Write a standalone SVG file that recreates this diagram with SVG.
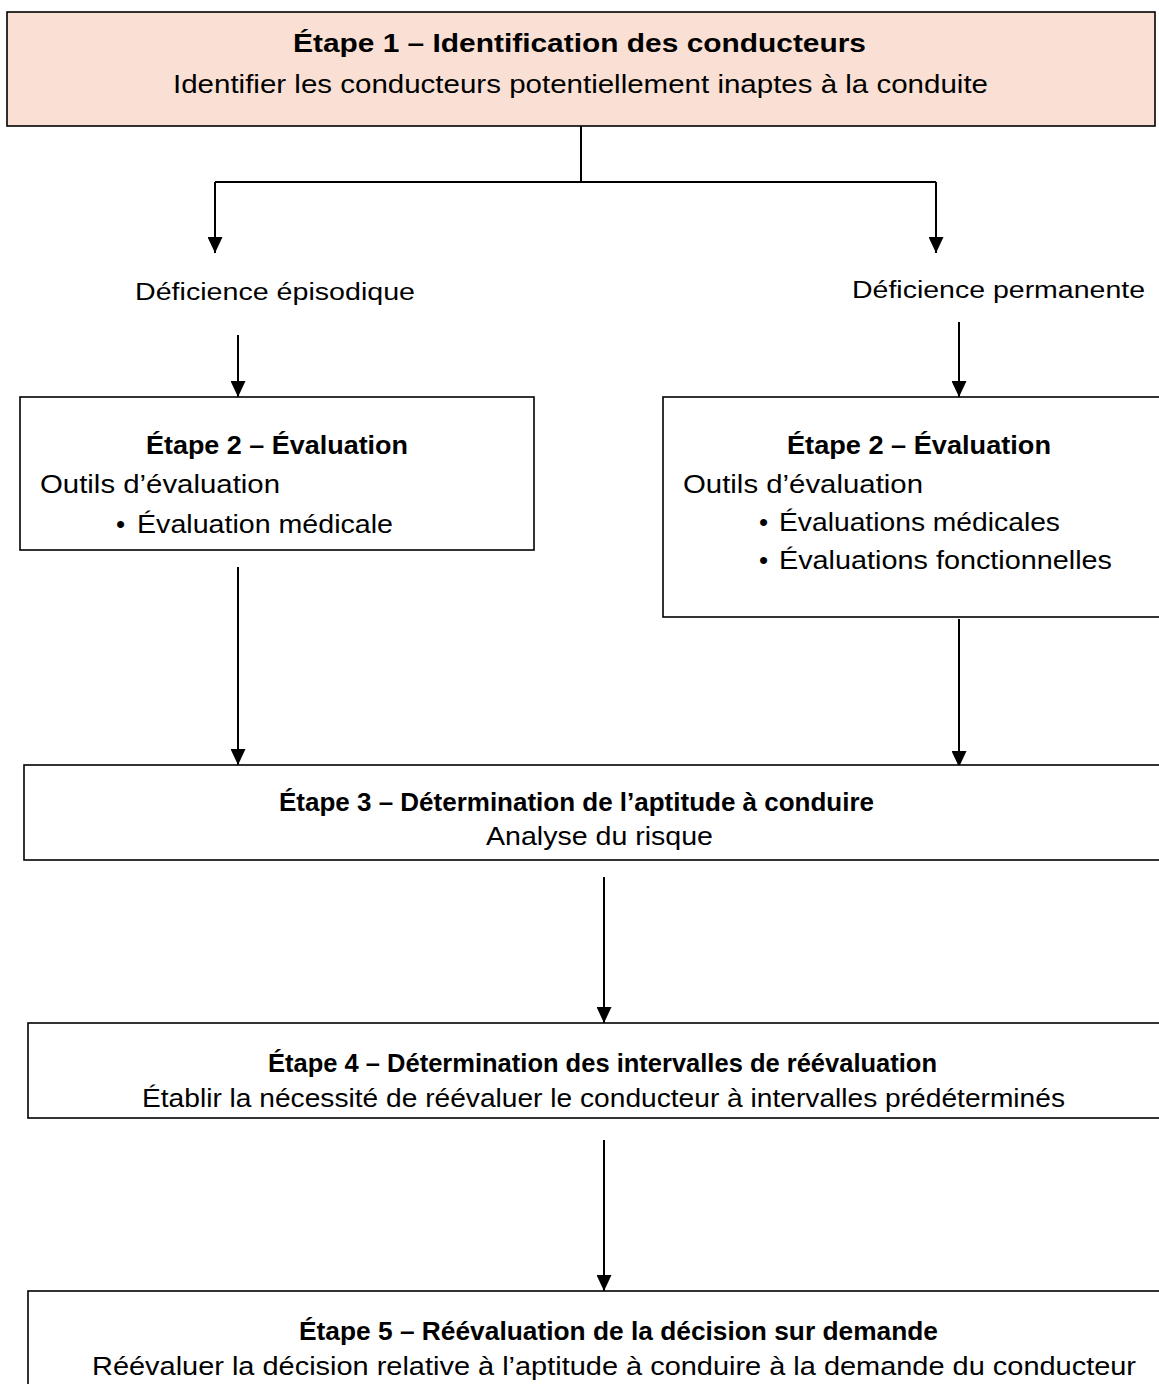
<svg xmlns="http://www.w3.org/2000/svg" width="1159" height="1384" viewBox="0 0 1159 1384">
  <style>
    .box { fill: #ffffff; stroke: #000000; stroke-width: 1.6; }
    .box.start { fill: #fae0d4; }
    .t { font-family: "Liberation Sans", Arial, sans-serif; font-size: 26px; fill: #000000; }
    .b { font-weight: bold; }
    .lbl { font-family: "Liberation Sans", Arial, sans-serif; font-size: 23px; fill: #000000; }
    .wire { fill: none; stroke: #000000; stroke-width: 2; }
  </style>
  <defs>
    <marker id="arrow" viewBox="0 0 16 15" refX="16" refY="7.5" markerWidth="16" markerHeight="15" markerUnits="userSpaceOnUse" orient="auto">
      <path d="M0,0 L16,7.5 L0,15 z" fill="#000000"/>
    </marker>
  </defs>

  <rect width="1159" height="1384" fill="#ffffff"/>

  <!-- connectors -->
  <g id="connectors">
    <path class="wire" d="M581,126 V182"/>
    <path class="wire" d="M215,182 H936"/>
    <path class="wire" d="M215,182 V253" marker-end="url(#arrow)"/>
    <path class="wire" d="M936,182 V253" marker-end="url(#arrow)"/>
    <path class="wire" d="M238,335 V397" marker-end="url(#arrow)"/>
    <path class="wire" d="M959,322 V397" marker-end="url(#arrow)"/>
    <path class="wire" d="M238,567 V765" marker-end="url(#arrow)"/>
    <path class="wire" d="M959,619 V767" marker-end="url(#arrow)"/>
    <path class="wire" d="M604,877 V1023" marker-end="url(#arrow)"/>
    <path class="wire" d="M604,1140 V1291" marker-end="url(#arrow)"/>
  </g>

  <!-- step 1 -->
  <g id="step1">
    <rect class="box start" x="7" y="12" width="1148" height="114"/>
    <text class="t b" x="293" y="52" textLength="573" lengthAdjust="spacingAndGlyphs">Étape 1 – Identification des conducteurs</text>
    <text class="t" x="173" y="93" textLength="815" lengthAdjust="spacingAndGlyphs">Identifier les conducteurs potentiellement inaptes à la conduite</text>
  </g>

  <!-- branch labels -->
  <g id="episodic">
    <text class="lbl" x="135" y="300" textLength="280" lengthAdjust="spacingAndGlyphs">Déficience épisodique</text>
  </g>
  <g id="permanent">
    <text class="lbl" x="852" y="298" textLength="293" lengthAdjust="spacingAndGlyphs">Déficience permanente</text>
  </g>

  <!-- step 2, episodic branch -->
  <g id="step2-episodic">
    <rect class="box" x="20" y="397" width="514" height="153"/>
    <text class="t b" x="146" y="454" textLength="262" lengthAdjust="spacingAndGlyphs">Étape 2 – Évaluation</text>
    <text class="t" x="40" y="493" textLength="240" lengthAdjust="spacingAndGlyphs">Outils d’évaluation</text>
    <text class="t" x="116" y="533">•</text>
    <text class="t" x="137" y="533" textLength="256" lengthAdjust="spacingAndGlyphs">Évaluation médicale</text>
  </g>

  <!-- step 2, permanent branch -->
  <g id="step2-permanent">
    <rect class="box" x="663" y="397" width="520" height="220"/>
    <text class="t b" x="787" y="454" textLength="264" lengthAdjust="spacingAndGlyphs">Étape 2 – Évaluation</text>
    <text class="t" x="683" y="493" textLength="240" lengthAdjust="spacingAndGlyphs">Outils d’évaluation</text>
    <text class="t" x="759" y="531">•</text>
    <text class="t" x="779" y="531" textLength="281" lengthAdjust="spacingAndGlyphs">Évaluations médicales</text>
    <text class="t" x="759" y="569">•</text>
    <text class="t" x="779" y="569" textLength="333" lengthAdjust="spacingAndGlyphs">Évaluations fonctionnelles</text>
  </g>

  <!-- step 3 -->
  <g id="step3">
    <rect class="box" x="24" y="765" width="1160" height="95"/>
    <text class="t b" x="279" y="811" textLength="595" lengthAdjust="spacingAndGlyphs">Étape 3 – Détermination de l’aptitude à conduire</text>
    <text class="t" x="486" y="845" textLength="227" lengthAdjust="spacingAndGlyphs">Analyse du risque</text>
  </g>

  <!-- step 4 -->
  <g id="step4">
    <rect class="box" x="28" y="1023" width="1160" height="95"/>
    <text class="t b" x="268" y="1072" textLength="669" lengthAdjust="spacingAndGlyphs">Étape 4 – Détermination des intervalles de réévaluation</text>
    <text class="t" x="142" y="1107" textLength="923" lengthAdjust="spacingAndGlyphs">Établir la nécessité de réévaluer le conducteur à intervalles prédéterminés</text>
  </g>

  <!-- step 5 -->
  <g id="step5">
    <rect class="box" x="28" y="1291" width="1160" height="120"/>
    <text class="t b" x="299" y="1340" textLength="639" lengthAdjust="spacingAndGlyphs">Étape 5 – Réévaluation de la décision sur demande</text>
    <text class="t" x="92" y="1375" textLength="1044" lengthAdjust="spacingAndGlyphs">Réévaluer la décision relative à l’aptitude à conduire à la demande du conducteur</text>
  </g>
</svg>
